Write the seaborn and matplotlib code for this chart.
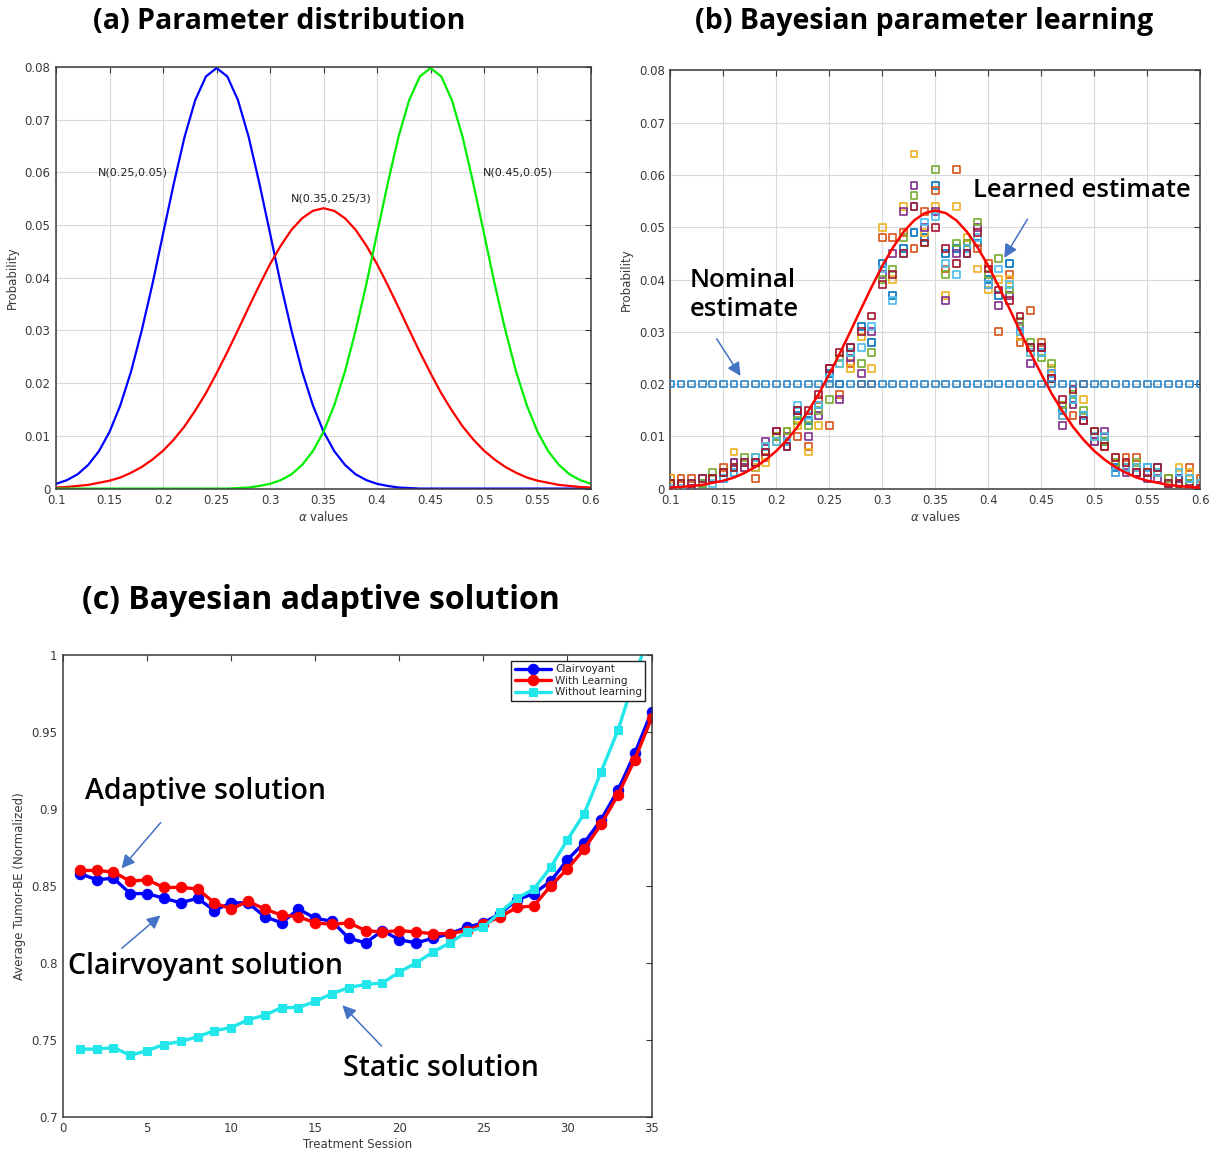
import matplotlib
matplotlib.use("Agg")
import matplotlib.pyplot as plt
import seaborn as sns
import pandas as pd

sns.set_style("white")
plt.rcParams["font.family"] = ["DejaVu Sans"]

# ---- panel (a) / (b): discrete parameter grid ----
alpha_values = [0.10, 0.11, 0.12, 0.13, 0.14, 0.15, 0.16, 0.17, 0.18, 0.19,
                0.20, 0.21, 0.22, 0.23, 0.24, 0.25, 0.26, 0.27, 0.28, 0.29,
                0.30, 0.31, 0.32, 0.33, 0.34, 0.35, 0.36, 0.37, 0.38, 0.39,
                0.40, 0.41, 0.42, 0.43, 0.44, 0.45, 0.46, 0.47, 0.48, 0.49,
                0.50, 0.51, 0.52, 0.53, 0.54, 0.55, 0.56, 0.57, 0.58, 0.59, 0.60]

prob_n025 = [0.0009, 0.0016, 0.0027, 0.0045, 0.0071, 0.0108, 0.0158, 0.0222, 0.0300, 0.0388,
             0.0484, 0.0579, 0.0667, 0.0737, 0.0782, 0.0798, 0.0782, 0.0737, 0.0667, 0.0579,
             0.0484, 0.0388, 0.0300, 0.0222, 0.0158, 0.0108, 0.0071, 0.0045, 0.0027, 0.0016,
             0.0009, 0.0005, 0.0002, 0.0001, 0, 0, 0, 0, 0, 0,
             0, 0, 0, 0, 0, 0, 0, 0, 0, 0, 0]
prob_n035 = [0.0002, 0.0003, 0.0005, 0.0007, 0.0011, 0.0015, 0.0021, 0.0030, 0.0041, 0.0055,
             0.0072, 0.0093, 0.0118, 0.0148, 0.0181, 0.0219, 0.0259, 0.0301, 0.0344, 0.0386,
             0.0426, 0.0461, 0.0491, 0.0513, 0.0527, 0.0532, 0.0527, 0.0513, 0.0491, 0.0461,
             0.0426, 0.0386, 0.0344, 0.0301, 0.0259, 0.0219, 0.0181, 0.0148, 0.0118, 0.0093,
             0.0072, 0.0055, 0.0041, 0.0030, 0.0021, 0.0015, 0.0011, 0.0007, 0.0005, 0.0003, 0.0002]
prob_n045 = [0, 0, 0, 0, 0, 0, 0, 0, 0, 0,
             0, 0, 0, 0, 0, 0, 0, 0.0001, 0.0002, 0.0005,
             0.0009, 0.0016, 0.0027, 0.0045, 0.0071, 0.0108, 0.0158, 0.0222, 0.0300, 0.0388,
             0.0484, 0.0579, 0.0667, 0.0737, 0.0782, 0.0798, 0.0782, 0.0737, 0.0667, 0.0579,
             0.0484, 0.0388, 0.0300, 0.0222, 0.0158, 0.0108, 0.0071, 0.0045, 0.0027, 0.0016, 0.0009]

nominal_prob = [0.02] * 51

# learned estimates, one run per MATLAB colour
run_blue = [0.001, 0.001, 0.000, 0.001, 0.002, 0.002, 0.003, 0.004, 0.004, 0.007,
            0.009, 0.008, 0.014, 0.013, 0.016, 0.022, 0.020, 0.027, 0.031, 0.028,
            0.043, 0.037, 0.046, 0.049, 0.048, 0.058, 0.045, 0.046, 0.045, 0.047,
            0.040, 0.037, 0.043, 0.030, 0.027, 0.026, 0.022, 0.015, 0.017, 0.014,
            0.010, 0.009, 0.004, 0.004, 0.004, 0.004, 0.004, 0.001, 0.002, 0.002, 0.001]
run_orange = [0.002, 0.002, 0.002, 0.002, 0.002, 0.004, 0.005, 0.005, 0.002, 0.006,
              0.010, 0.009, 0.010, 0.008, 0.017, 0.012, 0.018, 0.024, 0.020, 0.020,
              0.048, 0.048, 0.049, 0.046, 0.053, 0.057, 0.042, 0.061, 0.047, 0.046,
              0.043, 0.030, 0.041, 0.028, 0.034, 0.028, 0.021, 0.014, 0.014, 0.020,
              0.009, 0.008, 0.005, 0.006, 0.006, 0.003, 0.003, 0.002, 0.001, 0.004, 0.002]
run_yellow = [0.002, 0.001, 0.001, 0.002, 0.002, 0.003, 0.007, 0.004, 0.004, 0.005,
              0.009, 0.011, 0.012, 0.007, 0.012, 0.020, 0.024, 0.023, 0.029, 0.023,
              0.050, 0.040, 0.054, 0.064, 0.049, 0.054, 0.037, 0.054, 0.048, 0.042,
              0.038, 0.040, 0.040, 0.029, 0.026, 0.027, 0.023, 0.016, 0.016, 0.017,
              0.010, 0.010, 0.006, 0.005, 0.004, 0.003, 0.003, 0.001, 0.004, 0.003, 0.001]
run_purple = [0.001, 0.001, 0.000, 0.002, 0.002, 0.003, 0.005, 0.004, 0.005, 0.009,
              0.011, 0.010, 0.015, 0.010, 0.014, 0.023, 0.017, 0.025, 0.022, 0.030,
              0.041, 0.045, 0.053, 0.058, 0.050, 0.053, 0.036, 0.045, 0.046, 0.050,
              0.039, 0.035, 0.037, 0.031, 0.024, 0.027, 0.022, 0.012, 0.016, 0.013,
              0.009, 0.011, 0.003, 0.003, 0.003, 0.002, 0.002, 0.001, 0.002, 0.001, 0.000]
run_green = [0.001, 0.001, 0.001, 0.001, 0.003, 0.003, 0.004, 0.006, 0.006, 0.008,
             0.010, 0.011, 0.013, 0.012, 0.015, 0.017, 0.025, 0.026, 0.024, 0.026,
             0.040, 0.042, 0.048, 0.056, 0.047, 0.061, 0.041, 0.047, 0.047, 0.051,
             0.041, 0.044, 0.038, 0.032, 0.028, 0.025, 0.024, 0.016, 0.018, 0.015,
             0.011, 0.009, 0.005, 0.004, 0.005, 0.003, 0.003, 0.002, 0.001, 0.001, 0.001]
run_lightblue = [0.000, 0.000, 0.001, 0.002, 0.001, 0.002, 0.003, 0.005, 0.006, 0.008,
                 0.009, 0.009, 0.016, 0.014, 0.016, 0.021, 0.024, 0.026, 0.027, 0.031,
                 0.042, 0.036, 0.045, 0.054, 0.051, 0.052, 0.043, 0.041, 0.046, 0.048,
                 0.039, 0.042, 0.039, 0.030, 0.026, 0.026, 0.022, 0.014, 0.017, 0.014,
                 0.010, 0.010, 0.003, 0.004, 0.004, 0.004, 0.003, 0.001, 0.003, 0.002, 0.001]
run_darkred = [0.001, 0.001, 0.001, 0.002, 0.002, 0.003, 0.004, 0.005, 0.005, 0.007,
               0.011, 0.008, 0.015, 0.015, 0.018, 0.023, 0.026, 0.027, 0.030, 0.033,
               0.039, 0.041, 0.045, 0.054, 0.047, 0.050, 0.046, 0.043, 0.045, 0.049,
               0.042, 0.038, 0.036, 0.033, 0.027, 0.027, 0.021, 0.017, 0.019, 0.013,
               0.011, 0.008, 0.006, 0.005, 0.003, 0.003, 0.004, 0.001, 0.001, 0.000, 0.000]

runs = [run_blue, run_orange, run_yellow, run_purple, run_green, run_lightblue, run_darkred]
run_colors = ["#0072BD", "#D95319", "#EDB120", "#7E2F8E", "#77AC30", "#4DBEEE", "#A2142F"]

prob_ticks = [0, 0.01, 0.02, 0.03, 0.04, 0.05, 0.06, 0.07, 0.08]
prob_ticklabels = ["0", "0.01", "0.02", "0.03", "0.04", "0.05", "0.06", "0.07", "0.08"]
alpha_ticks = [0.1, 0.15, 0.2, 0.25, 0.3, 0.35, 0.4, 0.45, 0.5, 0.55, 0.6]
alpha_ticklabels = ["0.1", "0.15", "0.2", "0.25", "0.3", "0.35", "0.4", "0.45", "0.5", "0.55", "0.6"]

# ---- panel (c): treatment sessions ----
sessions = list(range(1, 36))
clairvoyant = [0.858, 0.854, 0.855, 0.845, 0.845, 0.842, 0.839, 0.842, 0.834, 0.839,
               0.839, 0.830, 0.826, 0.835, 0.829, 0.827, 0.816, 0.813, 0.821, 0.815,
               0.813, 0.816, 0.819, 0.823, 0.826, 0.832, 0.841, 0.845, 0.853, 0.867,
               0.878, 0.893, 0.912, 0.936, 0.963]
with_learning = [0.860, 0.860, 0.859, 0.853, 0.854, 0.849, 0.849, 0.848, 0.839, 0.835,
                 0.840, 0.835, 0.831, 0.830, 0.826, 0.825, 0.826, 0.821, 0.820, 0.821,
                 0.820, 0.819, 0.819, 0.821, 0.825, 0.830, 0.836, 0.837, 0.850, 0.861,
                 0.874, 0.890, 0.909, 0.932, 0.959]
without_learning = [0.744, 0.744, 0.745, 0.740, 0.743, 0.747, 0.749, 0.752, 0.756, 0.758,
                    0.763, 0.766, 0.771, 0.771, 0.775, 0.780, 0.784, 0.786, 0.787, 0.794,
                    0.800, 0.807, 0.813, 0.820, 0.823, 0.833, 0.842, 0.848, 0.862, 0.880,
                    0.897, 0.924, 0.951, 0.985, 1.020]
session_ticks = [0, 5, 10, 15, 20, 25, 30, 35]
be_ticks = [0.7, 0.75, 0.8, 0.85, 0.9, 0.95, 1]
be_ticklabels = ["0.7", "0.75", "0.8", "0.85", "0.9", "0.95", "1"]

TITLE_FONT = ["Open Sans", "DejaVu Sans"]
ARROW_BLUE = "#4472C4"


def matlab_axes(ax, grid=True):
    ax.tick_params(direction="in", top=True, right=True, length=4, width=0.8,
                   labelsize=8.5, labelcolor="#3a3a3a", color="#3a3a3a", pad=4)
    for sp in ax.spines.values():
        sp.set_visible(True)
        sp.set_linewidth(1.1)
        sp.set_color("#3a3a3a")
    if grid:
        ax.grid(True, color="#dadada", linewidth=0.8)
        ax.set_axisbelow(True)


def callout(ax, text, xy, xytext, tx, ty, size=18.5):
    ax.annotate("", xy=xy, xytext=xytext,
                arrowprops=dict(arrowstyle="-|>", color=ARROW_BLUE, lw=1.1, mutation_scale=20))
    ax.text(tx, ty, text, fontsize=size, family=TITLE_FONT, fontweight="semibold",
            color="black", ha="left", va="center", linespacing=1.2, zorder=10)


fig = plt.figure(figsize=(12.21, 11.55), dpi=100)
ax_a = fig.add_axes([0.046, 0.577, 0.438, 0.365])
ax_b = fig.add_axes([0.549, 0.577, 0.434, 0.362])
ax_c = fig.add_axes([0.0516, 0.033, 0.482, 0.400])

# (a) parameter distribution
sns.lineplot(x=alpha_values, y=prob_n025, color="#0000FF", linewidth=1.6, ax=ax_a)
sns.lineplot(x=alpha_values, y=prob_n035, color="#FF0000", linewidth=1.6, ax=ax_a)
sns.lineplot(x=alpha_values, y=prob_n045, color="#00EE00", linewidth=1.6, ax=ax_a)
ax_a.text(0.172, 0.060, "N(0.25,0.05)", fontsize=8, ha="center", va="center", color="#222222")
ax_a.text(0.357, 0.0551, "N(0.35,0.25/3)", fontsize=8, ha="center", va="center", color="#222222")
ax_a.text(0.532, 0.060, "N(0.45,0.05)", fontsize=8, ha="center", va="center", color="#222222")

# (b) Bayesian parameter learning
for vals, col in zip(runs, run_colors):
    sns.scatterplot(x=alpha_values, y=vals, marker="s", s=24, facecolor="none",
                    edgecolor=col, linewidth=1.2, ax=ax_b, zorder=3)
sns.scatterplot(x=alpha_values, y=nominal_prob, marker="s", s=24, facecolor="none",
                edgecolor="#2F86C9", linewidth=1.2, ax=ax_b, zorder=4)
sns.lineplot(x=alpha_values, y=prob_n035, color="#FF0000", linewidth=1.8, ax=ax_b, zorder=5)
callout(ax_b, "Learned estimate", (0.4137, 0.0437), (0.4383, 0.052), 0.386, 0.0571)
callout(ax_b, "Nominal\nestimate", (0.1677, 0.0211), (0.1423, 0.0291), 0.118, 0.0370)

for ax in (ax_a, ax_b):
    ax.set_xlim(0.1, 0.6)
    ax.set_ylim(0, 0.08)
    ax.set_xticks(alpha_ticks)
    ax.set_xticklabels(alpha_ticklabels)
    ax.set_yticks(prob_ticks)
    ax.set_yticklabels(prob_ticklabels)
    ax.set_xlabel(r"$\alpha$ values", fontsize=8.5, color="#3a3a3a", labelpad=2)
    ax.set_ylabel("Probability", fontsize=8.5, color="#3a3a3a", labelpad=4)
    matlab_axes(ax, grid=True)

# (c) Bayesian adaptive solution
sns.lineplot(x=sessions, y=clairvoyant, color="#0000FF", linewidth=2.4, marker="o",
             markersize=7.5, markeredgecolor="#0000FF", label="Clairvoyant", ax=ax_c)
sns.lineplot(x=sessions, y=with_learning, color="#FF0000", linewidth=2.4, marker="o",
             markersize=7.5, markeredgecolor="#FF0000", label="With Learning", ax=ax_c)
sns.lineplot(x=sessions, y=without_learning, color="#22E6EA", linewidth=2.4, marker="s",
             markersize=6, markeredgecolor="#22E6EA", label="Without learning", ax=ax_c)
ax_c.set_xlim(0, 35)
ax_c.set_ylim(0.7, 1)
ax_c.set_xticks(session_ticks)
ax_c.set_yticks(be_ticks)
ax_c.set_yticklabels(be_ticklabels)
ax_c.set_xlabel("Treatment Session", fontsize=8.5, color="#3a3a3a", labelpad=2)
ax_c.set_ylabel("Average Tumor-BE (Normalized)", fontsize=8.5, color="#3a3a3a", labelpad=4)
matlab_axes(ax_c, grid=False)
leg = ax_c.legend(loc="upper right", fontsize=7.5, frameon=True, fancybox=False,
                  edgecolor="#222222", framealpha=1, handlelength=3.5, borderpad=0.3,
                  labelspacing=0.15, handletextpad=0.4, borderaxespad=0.6)
leg.get_frame().set_linewidth(1.0)

callout(ax_c, "Adaptive solution", (3.37, 0.860), (5.92, 0.8925), 1.33, 0.911, size=20.5)
callout(ax_c, "Clairvoyant solution", (5.92, 0.832), (3.37, 0.8083), 0.31, 0.7976, size=20.5)
callout(ax_c, "Static solution", (16.5, 0.7738), (19.06, 0.7447), 16.63, 0.7317, size=20.5)

# panel titles
for tx, ty, label, size in [(0.229, 0.981, "(a) Parameter distribution", 20.5),
                            (0.757, 0.981, "(b) Bayesian parameter learning", 20.5),
                            (0.263, 0.4805, "(c) Bayesian adaptive solution", 23)]:
    fig.text(tx, ty, label, fontsize=size, family=TITLE_FONT, fontweight="bold",
             color="black", ha="center", va="center")

fig.savefig("out.png", dpi=100)
